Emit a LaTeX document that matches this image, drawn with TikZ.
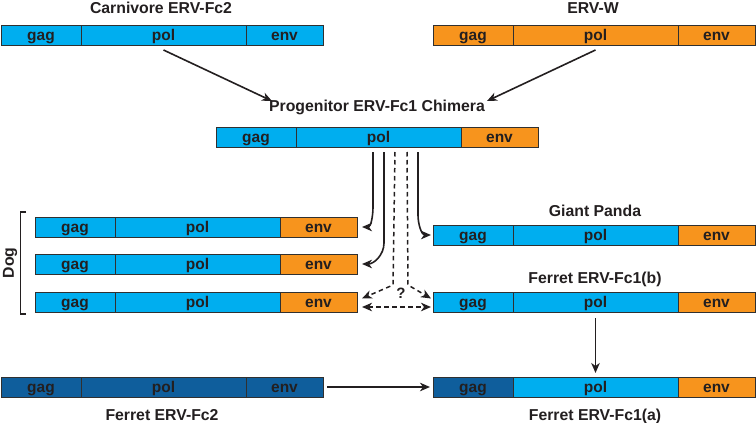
\documentclass[tikz,border=0pt]{standalone}
\usepackage{fontspec}
\setmainfont{Liberation Sans}
\usetikzlibrary{arrows.meta,calc}
\definecolor{lblue}{HTML}{00AEEF}
\definecolor{orng}{HTML}{F7941D}
\definecolor{dblue}{HTML}{0F5E9C}
\definecolor{bord}{HTML}{303030}
\definecolor{ink}{HTML}{231F20}
\tikzset{
  seg/.style={draw=bord, line width=1pt, minimum height=20pt, inner sep=0pt, outer sep=0pt,
    anchor=north west, text height=12pt, text depth=2pt, text=ink,
    font=\bfseries\fontsize{15.5}{16}\selectfont},
  title/.style={anchor=base, text=ink, inner sep=0pt, font=\bfseries\fontsize{15.8}{16}\selectfont},
  tipA/.tip={Stealth[length=10pt,width=8.5pt,inset=3pt]},
  arr/.style={draw=ink, line width=1.6pt, -tipA},
  darr/.style={draw=ink, line width=1.5pt, dash pattern=on 4.5pt off 3.5pt, -tipA},
}
\newcommand\genebar[6]{%
  \node[seg, fill=#4, minimum width=80pt] (#1-gag) at (#2,#3) {gag};
  \node[seg, fill=#5, minimum width=165pt] (#1-pol) at (#1-gag.north east) {pol};
  \node[seg, fill=#6, minimum width=77pt] (#1-env) at (#1-pol.north east) {env};
}
\begin{document}
\begin{tikzpicture}[x=1pt,y=-1pt]
\useasboundingbox (0,0) rectangle (756,423);
% bars
\genebar{cfc}{1}{25}{lblue}{lblue}{lblue}
\genebar{ervw}{433}{25}{orng}{orng}{orng}
\genebar{prog}{216}{127}{lblue}{lblue}{orng}
\genebar{dogA}{35}{217}{lblue}{lblue}{orng}
\genebar{dogB}{35}{254}{lblue}{lblue}{orng}
\genebar{dogC}{35}{292}{lblue}{lblue}{orng}
\genebar{panda}{433}{225}{lblue}{lblue}{orng}
\genebar{ferb}{433}{292}{lblue}{lblue}{orng}
\genebar{ferc}{1}{377}{dblue}{dblue}{dblue}
\genebar{fera}{433}{377}{dblue}{lblue}{orng}
% titles
\node[title] (t1) at (161,13) {Carnivore ERV-Fc2};
\node[title] (t2) at (593,13) {ERV-W};
\node[title] (t3) at (377,111) {Progenitor ERV-Fc1 Chimera};
\node[title] (t4) at (595,216) {Giant Panda};
\node[title] (t5) at (595,283) {Ferret ERV-Fc1(b)};
\node[title] (t6) at (162,420) {Ferret ERV-Fc2};
\node[title] (t7) at (595,420) {Ferret ERV-Fc1(a)};
\node[rotate=90, text=ink, inner sep=0pt, font=\bfseries\fontsize{15.8}{16}\selectfont] (dog) at (10,263) {Dog};
% bracket
\coordinate (bt) at (26,212);
\coordinate (bb) at (26,314);
\draw[draw=ink, line width=1.8pt] (bt) -- (20.5,212) -- (20.5,314) -- (bb);
% top arrows
\coordinate (e1) at (272,101);
\coordinate (e2) at (487,101);
\draw[arr] ($(cfc-pol.south)+(0,5)$) -- (e1);
\draw[arr] ($(ervw-pol.south)+(0,5)$) -- (e2);
% curved arrows from progenitor
\draw[arr] ($(prog-pol.south west)+(77,5)$) -- ($(prog-pol.south west)+(77,60)$)
   to[out=-90,in=0] ($(dogA-env.east)+(5,0)$);
\draw[arr] ($(prog-pol.south west)+(88,5)$) -- ($(prog-pol.south west)+(88,96)$)
   to[out=-90,in=0] ($(dogB-env.east)+(5,0)$);
\draw[arr] ($(prog-pol.south west)+(122,5)$) -- ($(prog-pol.south west)+(122,68)$)
   to[out=-90,in=180] ($(panda-gag.west)+(-2,0)$);
% dashed
\draw[darr] ($(prog-pol.south west)+(99,5)$) -- ($(prog-pol.south west)+(97,138)$)
   -- ($(dogC-env.east)+(5,-3.5)$);
\draw[darr] ($(prog-pol.south west)+(111,5)$) -- ($(prog-pol.south west)+(112,138)$)
   -- ($(ferb-gag.west)+(-2,-3.5)$);
\draw[darr, tipA-tipA]
   ($(dogC-env.east)+(5,5)$) -- ($(ferb-gag.west)+(-2,5)$);
\node[text=ink, inner sep=0pt, font=\bfseries\fontsize{15}{15}\selectfont] (q) at (401,293) {?};
% ferret arrows
\draw[arr] ($(ferb-pol.south)+(0,6)$) -- ($(fera-pol.north)+(0,-4)$);
\draw[arr] ($(ferc-env.east)+(4,0)$) -- ($(fera-gag.west)+(-3,0)$);
\end{tikzpicture}
\end{document}
